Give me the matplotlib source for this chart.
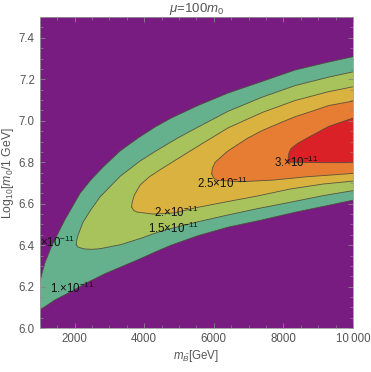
import numpy as np
import matplotlib
matplotlib.use('Agg')
from matplotlib import pyplot as plt
from matplotlib.ticker import MultipleLocator

# contour levels and band colours (below 1e-11 is the purple background)
levels = [1.0, 1.5, 2.0, 2.5, 3.0]
level_labels = ['1.', '1.5', '2.', '2.5', '3.']
band_colors = ['#65b18d', '#a8c25c', '#dab240', '#e67d32', '#da2127']
bg_color = '#781c82'

# boundary curves, (m_B [GeV], log10 m0)
lvl1_up_x = [1000, 1144, 1334, 1526, 1719, 2159, 2475, 2829, 3300, 3827, 4315, 4775, 5552, 6414, 7392, 8341, 9290, 10000]
lvl1_up_y = [6.223, 6.312, 6.392, 6.457, 6.521, 6.650, 6.716, 6.778, 6.853, 6.917, 6.970, 7.013, 7.074, 7.134, 7.190, 7.245, 7.283, 7.309]
lvl1_lo_x = [1000, 1431, 1909, 2389, 2869, 3348, 3827, 4300, 4775, 5552, 6414, 7392, 8341, 9290, 10000]
lvl1_lo_y = [6.087, 6.135, 6.177, 6.222, 6.262, 6.296, 6.330, 6.366, 6.400, 6.446, 6.487, 6.522, 6.559, 6.592, 6.617]

lvl15_up_x = [2050, 2065, 2101, 2245, 2475, 2734, 3309, 3884, 4315, 4976, 5552, 6414, 7392, 8341, 9290, 10000]
lvl15_up_y = [6.402, 6.425, 6.448, 6.511, 6.572, 6.633, 6.732, 6.806, 6.852, 6.918, 6.970, 7.046, 7.114, 7.170, 7.210, 7.236]
lvl15_lo_x = [2050, 2110, 2274, 2500, 2734, 3338, 3884, 4459, 4833, 5552, 6414, 7248, 8197, 9146, 10000]
lvl15_lo_y = [6.402, 6.390, 6.382, 6.380, 6.383, 6.403, 6.432, 6.466, 6.483, 6.513, 6.546, 6.576, 6.607, 6.639, 6.663]

lvl2_up_x = [3640, 3660, 3720, 3884, 4150, 4459, 4976, 5552, 6414, 7392, 8341, 9290, 10000]
lvl2_up_y = [6.585, 6.610, 6.642, 6.690, 6.730, 6.764, 6.818, 6.878, 6.966, 7.040, 7.098, 7.140, 7.164]
lvl2_lo_x = [3640, 3700, 3789, 4266, 4890, 5465, 6328, 7248, 8197, 9146, 10000]
lvl2_lo_y = [6.585, 6.568, 6.560, 6.550, 6.556, 6.580, 6.608, 6.637, 6.671, 6.695, 6.709]

lvl25_up_x = [5940, 5960, 6041, 6386, 6961, 7392, 7909, 8341, 8858, 9290, 10000]
lvl25_up_y = [6.745, 6.772, 6.800, 6.852, 6.915, 6.953, 6.990, 7.020, 7.048, 7.073, 7.095]
lvl25_lo_x = [5940, 5990, 6090, 6760, 7709, 8677, 10000]
lvl25_lo_y = [6.745, 6.725, 6.713, 6.706, 6.714, 6.730, 6.746]

lvl3_up_x = [8120, 8160, 8220, 8400, 8686, 9290, 10000]
lvl3_up_y = [6.800, 6.845, 6.866, 6.890, 6.917, 6.972, 7.013]
lvl3_lo_x = [8120, 9060, 10000]
lvl3_lo_y = [6.800, 6.798, 6.798]

boundaries = [
    (lvl1_up_x, lvl1_up_y, lvl1_lo_x, lvl1_lo_y),
    (lvl15_up_x, lvl15_up_y, lvl15_lo_x, lvl15_lo_y),
    (lvl2_up_x, lvl2_up_y, lvl2_lo_x, lvl2_lo_y),
    (lvl25_up_x, lvl25_up_y, lvl25_lo_x, lvl25_lo_y),
    (lvl3_up_x, lvl3_up_y, lvl3_lo_x, lvl3_lo_y),
]

x_ticks = [2000, 4000, 6000, 8000, 10000]
x_tick_labels = ['2000', '4000', '6000', '8000', '10\u2009000']
y_ticks = [6.0, 6.2, 6.4, 6.6, 6.8, 7.0, 7.2, 7.4]

# where the contour labels sit (level index, x, y)
label_spots = [(0, 1930, 6.193), (1, 4834, 6.482), (2, 4920, 6.556),
               (3, 6247, 6.700), (4, 8375, 6.797)]

plt.rcParams['font.family'] = ['Liberation Sans', 'DejaVu Sans']
plt.rcParams['mathtext.fontset'] = 'custom'
plt.rcParams['mathtext.it'] = 'Liberation Sans:italic'
plt.rcParams['mathtext.rm'] = 'Liberation Sans'

fig = plt.figure(figsize=(3.71, 3.72), dpi=100)
ax = fig.add_axes([0.107, 0.118, 0.8445, 0.836])
ax.set_facecolor(bg_color)

line_color = '#4d4a3a'
for (ux, uy, lx, ly), c in zip(boundaries, band_colors):
    # closed polygon: upper branch left->right, lower branch back
    px = list(ux) + list(lx)[::-1]
    py = list(uy) + list(ly)[::-1]
    ax.fill(px, py, color=c, lw=0, zorder=1)
for ux, uy, lx, ly in boundaries:
    ax.plot(ux, uy, color=line_color, lw=0.6, alpha=0.9, zorder=2)
    ax.plot(lx, ly, color=line_color, lw=0.6, alpha=0.9, zorder=2)

for i, lx, ly in label_spots:
    ax.text(lx, ly, level_labels[i] + r'$\times$10$^{-11}$', fontsize=8.3,
            ha='center', va='center', color='#111111', zorder=3, clip_on=True)
# the upper-left 1e-11 label is cut by the frame, only its tail shows
ax.text(1010, 6.415, r'$\times$10$^{-11}$', fontsize=8.3, ha='left', va='center',
        color='#111111', zorder=3, clip_on=True)

ax.set_xlim(1000, 10000)
ax.set_ylim(6.0, 7.5)
ax.set_xticks(x_ticks)
ax.set_xticklabels(x_tick_labels)
ax.set_yticks(y_ticks)
ax.set_yticklabels(['%.1f' % v for v in y_ticks])
ax.xaxis.set_minor_locator(MultipleLocator(500))
ax.yaxis.set_minor_locator(MultipleLocator(0.05))

gray = '#555555'
ax.tick_params(which='both', direction='in', colors='#888888', labelcolor=gray,
               labelsize=8.3, top=True, right=True)
ax.tick_params(which='major', length=3.5, width=0.6)
ax.tick_params(which='minor', length=2, width=0.5)
for s in ax.spines.values():
    s.set_color('#999999')
    s.set_linewidth(0.6)

ax.set_title(r'$\mu$=100$m_0$', fontsize=9.5, color=gray, pad=2)
ax.set_xlabel(r'$m_{\tilde{B}}$[GeV]', fontsize=8.3, color=gray, labelpad=2)
ax.set_ylabel(r'Log$_{10}$[$m_0$/1 GeV]', fontsize=8.8, color=gray, labelpad=2)

fig.savefig('out.png', dpi=100)
